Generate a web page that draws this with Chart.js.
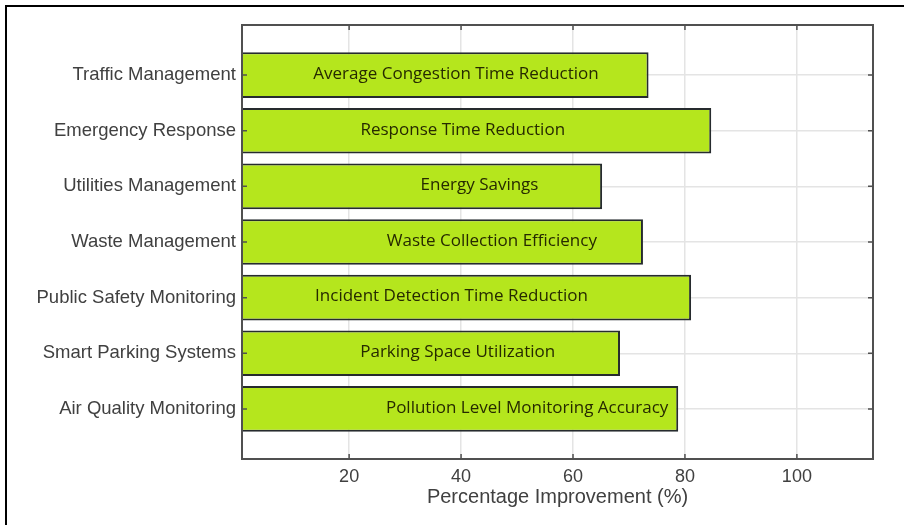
<!DOCTYPE html>
<html>
<head>
<meta charset="utf-8">
<script src="https://cdn.jsdelivr.net/npm/chart.js@4.4.1/dist/chart.umd.min.js"></script>
<style>
  html, body { margin: 0; padding: 0; background: #fff; overflow: hidden; }
  #wrap { position: relative; width: 904px; height: 525px; }
  #frame { position: absolute; left: 5px; top: 5px; width: 1000px; height: 1000px;
           border: 2px solid #000; pointer-events: none; }
</style>
</head>
<body>
<div id="wrap">
  <canvas id="chart" width="904" height="525"></canvas>
  <div id="frame"></div>
</div>
<script>
const categories = [
  "Traffic Management",
  "Emergency Response",
  "Utilities Management",
  "Waste Management",
  "Public Safety Monitoring",
  "Smart Parking Systems",
  "Air Quality Monitoring"
];
const improvement = [73.5, 84.7, 65.2, 72.5, 81.1, 68.4, 78.8];
const metrics = [
  "Average Congestion Time Reduction",
  "Response Time Reduction",
  "Energy Savings",
  "Waste Collection Efficiency",
  "Incident Detection Time Reduction",
  "Parking Space Utilization",
  "Pollution Level Monitoring Accuracy"
];
// where each metric label is centred, in % units along the x axis
const metricLabelAt = [39.1, 40.3, 43.3, 45.5, 38.3, 39.4, 51.8];
const xTicks = [20, 40, 60, 80, 100];

const AXIS = "#505050";
const TEXT = "#404040";

// MATLAB-style box with inward ticks, drawn over the bars
const boxPlugin = {
  id: "box",
  afterDatasetsDraw(chart) {
    const { ctx, chartArea: a, scales } = chart;
    ctx.save();
    ctx.strokeStyle = AXIS;
    ctx.lineWidth = 2;
    ctx.strokeRect(a.left, a.top, a.right - a.left, a.bottom - a.top);
    ctx.lineWidth = 1.5;
    ctx.beginPath();
    xTicks.forEach(v => {
      const x = scales.x.getPixelForValue(v);
      ctx.moveTo(x, a.bottom); ctx.lineTo(x, a.bottom - 5);
      ctx.moveTo(x, a.top); ctx.lineTo(x, a.top + 5);
    });
    categories.forEach((_, i) => {
      const y = scales.y.getPixelForValue(i);
      ctx.moveTo(a.left, y); ctx.lineTo(a.left + 5, y);
      ctx.moveTo(a.right, y); ctx.lineTo(a.right - 5, y);
    });
    ctx.stroke();
    ctx.restore();
  }
};

// metric names written inside the bars
const metricPlugin = {
  id: "metrics",
  afterDatasetsDraw(chart) {
    const { ctx, scales } = chart;
    ctx.save();
    ctx.font = "17px 'Open Sans'";
    ctx.fillStyle = "#262a00";
    ctx.textAlign = "center";
    ctx.textBaseline = "middle";
    metrics.forEach((m, i) => {
      ctx.fillText(m, scales.x.getPixelForValue(metricLabelAt[i]), scales.y.getPixelForValue(i) - 1);
    });
    ctx.restore();
  }
};

new Chart(document.getElementById("chart"), {
  type: "bar",
  data: {
    datasets: [{
      data: improvement.map((v, i) => ({ x: v, y: i })),
      backgroundColor: "#b5e61d",
      borderColor: "#262b2e",
      borderWidth: 2,
      borderSkipped: false,
      categoryPercentage: 1,
      barPercentage: 0.82
    }]
  },
  options: {
    indexAxis: "y",
    responsive: false,
    animation: false,
    devicePixelRatio: 1,
    layout: { padding: { top: 25, right: 31, left: 0, bottom: 0 } },
    plugins: { legend: { display: false }, tooltip: { enabled: false } },
    scales: {
      x: {
        type: "linear",
        min: 0.86,
        max: 113.6,
        afterBuildTicks: s => { s.ticks = xTicks.map(v => ({ value: v })); },
        afterFit: s => { s.height = 66; },
        border: { display: false },
        grid: { color: "#e4e4e4", lineWidth: 1.5, drawTicks: false },
        ticks: { color: TEXT, font: { family: "'Liberation Sans', Arial", size: 18 }, padding: 7 },
        title: {
          display: true,
          text: "Percentage Improvement (%)",
          color: TEXT,
          font: { family: "'Liberation Sans', Arial", size: 20 },
          padding: { top: 0, bottom: 16 }
        }
      },
      y: {
        type: "linear",
        reverse: true,
        offset: false,
        min: -0.9,
        max: 6.9,
        afterBuildTicks: s => { s.ticks = categories.map((_, i) => ({ value: i })); },
        afterFit: s => { s.width = 242; },
        border: { display: false },
        grid: { color: "#e4e4e4", lineWidth: 1.5, drawTicks: false, offset: false },
        ticks: {
          color: TEXT,
          font: { family: "'Liberation Sans', Arial", size: 18.5 },
          padding: 6,
          callback: v => categories[v]
        }
      }
    }
  },
  plugins: [boxPlugin, metricPlugin]
});
</script>
</body>
</html>
